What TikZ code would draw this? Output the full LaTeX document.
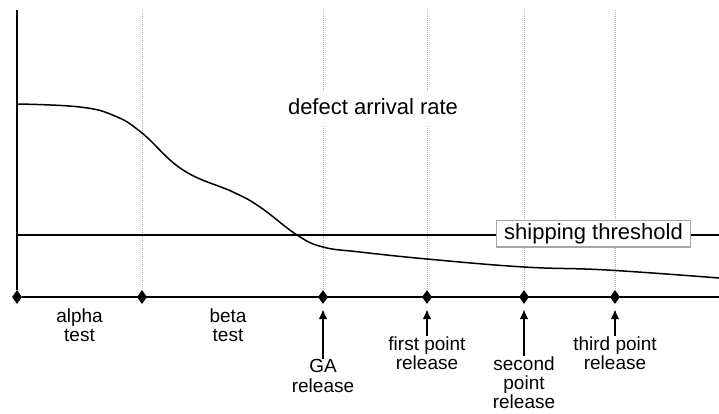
\documentclass[tikz,border=0pt]{standalone}
\usepackage{fontspec}
\setmainfont{Liberation Sans}
\usetikzlibrary{shapes.geometric,arrows.meta}
\tikzset{
	milestone/.style={diamond, fill=black, inner sep=0pt, minimum width=10pt, minimum height=14pt},
	phase/.style={dash pattern=on 1pt off 1pt, line width=0.8pt, gray!60},
	lbl/.style={font=\fontsize{19}{19.5}\selectfont, align=center, inner sep=0.5pt},
	big/.style={font=\fontsize{22}{24}\selectfont},
	release/.style={line width=2pt, -{Latex[length=10pt,width=9pt]}, shorten >=5pt}
}
\begin{document}
\begin{tikzpicture}[x=1pt,y=-1pt]
			\useasboundingbox (0,0) rectangle (719,413);
			\node[milestone] (start) at (17,297) {};
			\node[milestone] (beta) at (142,297) {};
			\node[milestone] (ga) at (323,297) {};
			\node[milestone] (first) at (427,297) {};
			\node[milestone] (second) at (524,297) {};
			\node[milestone] (third) at (615,297) {};
			\coordinate (top) at (17,10);
			\coordinate (xend) at (719,297);
			\draw[phase] (142,10) -- (beta);
			\draw[phase] (323,10) -- (ga);
			\draw[phase] (427,10) -- (first);
			\draw[phase] (524,10) -- (second);
			\draw[phase] (615,10) -- (third);
			\draw[line width=1.5pt] (17,235) -- (719,235);
			\draw[line width=1.5pt] plot[smooth, tension=0.7] coordinates {(17,104) (80,107) (115,116) (142,133) (183,170) (233,192) (260,207) (297,235) (323,247) (360,252) (427,259) (524,267) (607,270) (719,278)};
			\draw[line width=2pt] (top) -- (start) -- (xend);
			\node[big, fill=white, anchor=base, text height=16pt, text depth=5pt, inner xsep=5pt, inner ysep=6pt] (rate) at (373,114) {defect arrival rate};
			\node[big, fill=white, draw=gray!70, line width=1.5pt, anchor=base, inner xsep=7.5pt, inner ysep=3pt] (threshold) at (593.5,239.5) {shipping threshold};
			\node[lbl, anchor=north] (alpha) at (79.5,308) {alpha\\test};
			\node[lbl, anchor=north] (betatest) at (228,308) {beta\\test};
			\node[lbl, anchor=north] (galbl) at (323,359) {GA\\release};
			\node[lbl, anchor=north] (firstlbl) at (427,336) {first point\\release};
			\node[lbl, anchor=north, font=\fontsize{19}{19}\selectfont] (secondlbl) at (524,356) {second\\point\\release};
			\node[lbl, anchor=north] (thirdlbl) at (615,336) {third point\\release};
			\draw[release] (galbl) -- (ga);
			\draw[release] (firstlbl) -- (first);
			\draw[release] (secondlbl) -- (second);
			\draw[release] (thirdlbl) -- (third);
		\end{tikzpicture}
\end{document}
